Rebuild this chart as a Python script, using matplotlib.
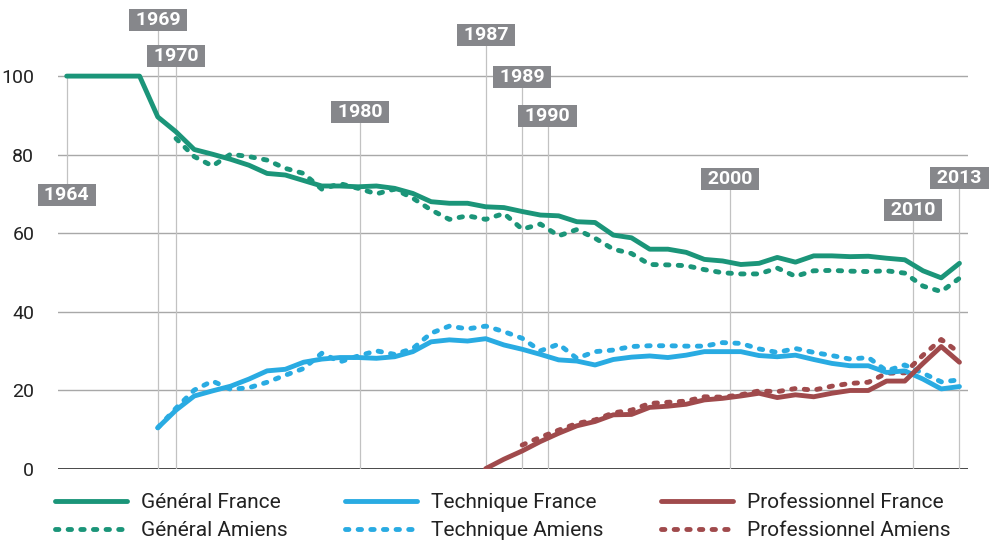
import matplotlib
matplotlib.use("Agg")
from matplotlib import pyplot as plt

# share of pupils per stream (%), 1964-2013
gen_france = [100, 100, 100, 100, 100,
              89.6, 85.8, 81.3, 80.1, 78.8, 77.3, 75.2, 74.8, 73.4, 72.0,
              72.0, 71.8, 72.0, 71.4, 70.1, 68.0, 67.6, 67.6, 66.7, 66.5,
              65.5, 64.6, 64.4, 62.9, 62.7, 59.5, 58.8, 55.9, 55.9, 55.1,
              53.3, 52.9, 52.0, 52.3, 53.8, 52.6, 54.2, 54.2, 54.0, 54.1,
              53.6, 53.2, 50.4, 48.6, 52.3]
gen_amiens = [84.1, 79.5, 77.1, 80.1, 79.5, 78.6, 76.5, 75.2, 71.2, 72.6,
              71.4, 70.0, 71.2, 68.9, 65.9, 63.5, 64.4, 63.5, 65.0, 61.0,
              62.3, 59.3, 60.9, 58.7, 55.9, 54.8, 52.0, 51.9, 51.7, 50.7,
              49.9, 49.6, 49.6, 51.1, 49.0, 50.4, 50.5, 50.3, 50.2, 50.4,
              49.8, 46.5, 45.1, 48.5]
tech_france = [10.4, 14.9, 18.5, 19.8, 21.0, 22.8, 24.9, 25.3, 27.1, 27.9,
               28.3, 28.3, 28.1, 28.5, 29.8, 32.3, 32.8, 32.5, 33.1, 31.5,
               30.4, 29.1, 27.7, 27.4, 26.4, 27.8, 28.4, 28.7, 28.3, 28.9,
               29.8, 29.8, 29.8, 28.8, 28.5, 28.9, 27.8, 26.8, 26.2, 26.2,
               24.5, 24.9, 22.8, 20.3, 20.9]
tech_amiens = [10.4, 15.4, 20.0, 22.3, 20.2, 20.6, 22.0, 23.8, 25.5, 29.4,
               27.2, 28.7, 30.0, 29.1, 30.6, 34.5, 36.3, 35.6, 36.3, 34.9,
               33.2, 30.0, 31.7, 28.1, 29.8, 30.2, 31.1, 31.3, 31.3, 31.2,
               31.2, 32.1, 31.9, 30.5, 29.6, 30.6, 29.6, 28.8, 27.9, 28.3,
               24.9, 26.4, 24.3, 22.1, 22.6]
pro_france = [0, 2.4, 4.5, 6.9, 9.0, 10.9, 12.0, 13.7, 13.8, 15.6,
              15.9, 16.4, 17.5, 17.9, 18.5, 19.2, 18.1, 18.8, 18.3, 19.2,
              19.9, 19.9, 22.3, 22.3, 26.8, 31.1, 27.1]
pro_amiens = [6.0, 8.0, 9.8, 11.5, 12.4, 14.2, 14.9, 16.6,
              16.9, 17.2, 18.3, 18.2, 18.8, 19.8, 19.6, 20.4, 20.0, 21.0,
              21.7, 22.0, 24.3, 24.4, 28.9, 32.9, 29.5]

series = [
    ("Général France", 1964, gen_france, "#1b9579", "-"),
    ("Général Amiens", 1970, gen_amiens, "#1b9579", "--"),
    ("Technique France", 1969, tech_france, "#29abe2", "-"),
    ("Technique Amiens", 1969, tech_amiens, "#29abe2", "--"),
    ("Professionnel France", 1987, pro_france, "#a04a4c", "-"),
    ("Professionnel Amiens", 1989, pro_amiens, "#a04a4c", "--"),
]

# year call-outs: stem position and label height
label_years = ["1964", "1969", "1970", "1980", "1987", "1989", "1990", "2000", "2010", "2013"]
label_x = [1964, 1969, 1970, 1980.1, 1987, 1989, 1990.4, 2000.4, 2010.45, 2013]
label_y = [69.7, 114.3, 105.1, 90.9, 110.5, 99.8, 89.8, 73.8, 65.9, 74.1]

FONT = ["Roboto", "DejaVu Sans"]
DASH = (0.7, 1.9)

fig = plt.figure(figsize=(9.95, 5.43), dpi=100)
ax = fig.add_axes([57.7 / 995, 1 - 468.6 / 543, (968 - 57.7) / 995, 118 * 3.925 / 543])
ax.set_xlim(1963.506, 2013.47)
ax.set_ylim(0, 118)

for v in [20, 40, 60, 80, 100]:
    ax.axhline(v, color="#a8a8a8", lw=1.0, zorder=1)
ax.axhline(0, color="#2a2a2a", lw=1.2, zorder=1)

ax.set_xticks([])
ax.set_yticks([0, 20, 40, 60, 80, 100])
ax.tick_params(axis="y", length=0, pad=16.8, labelsize=14, labelcolor="#222222")
for lab in ax.get_yticklabels():
    lab.set_family(FONT)
for s in ax.spines.values():
    s.set_visible(False)

# stems and boxed year labels
for i, (txt, x, y) in enumerate(zip(label_years, label_x, label_y)):
    if i == 0:
        ax.plot([x, x], [y, gen_france[0]], color="#c2c2c2", lw=0.9, zorder=2)
    else:
        ax.plot([x, x], [0, y], color="#c2c2c2", lw=0.9, zorder=2)
    ax.text(x, y, f" {txt} ", ha="center", va="center", fontsize=14,
            fontweight="bold", color="white", family=FONT, zorder=6,
            bbox=dict(boxstyle="square,pad=0.1", fc="#86878b", ec="none"))

handles = []
for name, start, vals, col, ls in series:
    years = list(range(start, start + len(vals)))
    if ls == "-":
        ln, = ax.plot(years, vals, color=col, lw=3.5, solid_capstyle="round",
                      solid_joinstyle="round", zorder=4)
    else:
        ln, = ax.plot(years, vals, color=col, lw=3.5, dashes=DASH,
                      dash_capstyle="round", zorder=3)
    ln.set_label(name)
    handles.append(ln)

leg = fig.legend(handles=handles, ncol=3, loc="upper left",
                 bbox_to_anchor=(55 / 995, 1 - 493.5 / 543), frameon=False,
                 borderpad=0, borderaxespad=0, handlelength=3.46,
                 handletextpad=0.67, columnspacing=2.75, labelspacing=0.42,
                 prop={"family": FONT, "size": 15})
for t in leg.get_texts():
    t.set_color("#222222")

fig.savefig("out.png", dpi=100)
